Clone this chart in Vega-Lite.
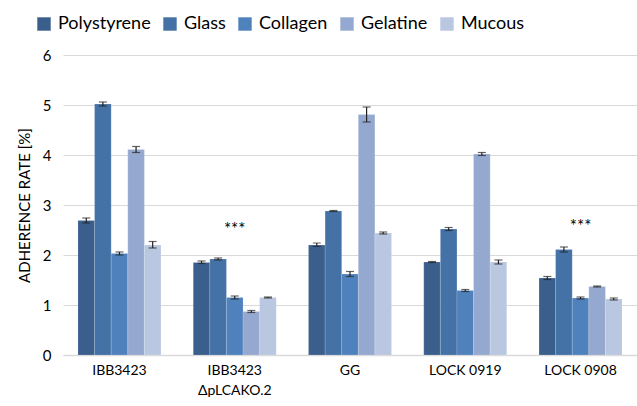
{
  "$schema": "https://vega.github.io/schema/vega-lite/v6.json",
  "width": 574,
  "height": 300,
  "autosize": "none",
  "padding": {"left": 63, "top": 55, "right": 0, "bottom": 51},
  "background": "white",
  "config": {
    "font": "Lato",
    "view": {"stroke": null}
  },
  "datasets": {
    "bars": [
      {"strain": "IBB3423", "surface": "Polystyrene", "value": 2.69, "lo": 2.64, "hi": 2.74},
      {"strain": "IBB3423", "surface": "Glass", "value": 5.02, "lo": 4.98, "hi": 5.06},
      {"strain": "IBB3423", "surface": "Collagen", "value": 2.03, "lo": 2.0, "hi": 2.06},
      {"strain": "IBB3423", "surface": "Gelatine", "value": 4.11, "lo": 4.05, "hi": 4.17},
      {"strain": "IBB3423", "surface": "Mucous", "value": 2.2, "lo": 2.14, "hi": 2.27},
      {"strain": "IBB3423\nΔpLCAKO.2", "surface": "Polystyrene", "value": 1.85, "lo": 1.83, "hi": 1.88},
      {"strain": "IBB3423\nΔpLCAKO.2", "surface": "Glass", "value": 1.92, "lo": 1.9, "hi": 1.94},
      {"strain": "IBB3423\nΔpLCAKO.2", "surface": "Collagen", "value": 1.15, "lo": 1.12, "hi": 1.18},
      {"strain": "IBB3423\nΔpLCAKO.2", "surface": "Gelatine", "value": 0.87, "lo": 0.85, "hi": 0.89},
      {"strain": "IBB3423\nΔpLCAKO.2", "surface": "Mucous", "value": 1.15, "lo": 1.14, "hi": 1.16},
      {"strain": "GG", "surface": "Polystyrene", "value": 2.2, "lo": 2.17, "hi": 2.24},
      {"strain": "GG", "surface": "Glass", "value": 2.88, "lo": 2.87, "hi": 2.89},
      {"strain": "GG", "surface": "Collagen", "value": 1.62, "lo": 1.57, "hi": 1.67},
      {"strain": "GG", "surface": "Gelatine", "value": 4.81, "lo": 4.66, "hi": 4.96},
      {"strain": "GG", "surface": "Mucous", "value": 2.44, "lo": 2.42, "hi": 2.46},
      {"strain": "LOCK 0919", "surface": "Polystyrene", "value": 1.86, "lo": 1.85, "hi": 1.87},
      {"strain": "LOCK 0919", "surface": "Glass", "value": 2.52, "lo": 2.49, "hi": 2.55},
      {"strain": "LOCK 0919", "surface": "Collagen", "value": 1.29, "lo": 1.27, "hi": 1.31},
      {"strain": "LOCK 0919", "surface": "Gelatine", "value": 4.02, "lo": 3.99, "hi": 4.05},
      {"strain": "LOCK 0919", "surface": "Mucous", "value": 1.86, "lo": 1.82, "hi": 1.9},
      {"strain": "LOCK 0908", "surface": "Polystyrene", "value": 1.54, "lo": 1.51, "hi": 1.57},
      {"strain": "LOCK 0908", "surface": "Glass", "value": 2.11, "lo": 2.06, "hi": 2.16},
      {"strain": "LOCK 0908", "surface": "Collagen", "value": 1.14, "lo": 1.12, "hi": 1.16},
      {"strain": "LOCK 0908", "surface": "Gelatine", "value": 1.37, "lo": 1.36, "hi": 1.38},
      {"strain": "LOCK 0908", "surface": "Mucous", "value": 1.12, "lo": 1.1, "hi": 1.14}
    ],
    "stars": [
      {"strain": "IBB3423\nΔpLCAKO.2", "label": "***", "y": 2.5},
      {"strain": "LOCK 0908", "label": "***", "y": 2.57}
    ]
  },
  "encoding": {
    "x": {
      "field": "strain",
      "type": "nominal",
      "sort": ["IBB3423", "IBB3423\nΔpLCAKO.2", "GG", "LOCK 0919", "LOCK 0908"],
      "scale": {"paddingInner": 0.28, "paddingOuter": 0.13},
      "axis": {
        "title": null,
        "labelAngle": 0,
        "labelExpr": "split(datum.label, '\\n')",
        "labelFontSize": 14,
        "labelColor": "#000000",
        "labelPadding": 8,
        "labelLineHeight": 20,
        "ticks": false,
        "domainColor": "#D9D9D9",
        "domainWidth": 1.5,
        "grid": false
      }
    }
  },
  "layer": [
    {
      "data": {"name": "bars"},
      "mark": {"type": "bar", "stroke": "#FFFFFF", "strokeWidth": 0.5, "strokeOpacity": 0.3},
      "encoding": {
        "xOffset": {"field": "surface", "type": "nominal", "sort": ["Polystyrene", "Glass", "Collagen", "Gelatine", "Mucous"], "scale": {"paddingInner": 0}},
        "y": {
          "field": "value",
          "type": "quantitative",
          "scale": {"domain": [0, 6], "nice": false},
          "axis": {
            "title": "ADHERENCE RATE [%]",
            "titleFontSize": 15,
            "titleFontWeight": "normal",
            "titleColor": "#000000",
            "titlePadding": 10,
            "values": [0, 1, 2, 3, 4, 5, 6],
            "labelOverlap": false,
            "labelFontSize": 15,
            "labelColor": "#000000",
            "labelPadding": 12,
            "ticks": false,
            "domain": false,
            "gridColor": "#D9D9D9",
            "gridWidth": 1.2
          }
        },
        "color": {
          "field": "surface",
          "type": "nominal",
          "sort": ["Polystyrene", "Glass", "Collagen", "Gelatine", "Mucous"],
          "scale": {"range": ["#3A5F8C", "#4472A6", "#4F81BD", "#95A9D0", "#B9C7E1"]},
          "legend": {
            "title": null,
            "orient": "none",
            "direction": "horizontal",
            "legendX": -28,
            "legendY": -40,
            "symbolType": "square",
            "symbolSize": 180,
            "symbolStrokeWidth": 0,
            "labelFontSize": 18,
            "labelColor": "#000000",
            "labelOffset": 5,
            "columnPadding": 10,
            "symbolOpacity": 1
          }
        }
      }
    },
    {
      "data": {"name": "bars"},
      "mark": {"type": "rule", "color": "#222222", "strokeWidth": 1.2},
      "encoding": {
        "xOffset": {"field": "surface", "type": "nominal", "sort": ["Polystyrene", "Glass", "Collagen", "Gelatine", "Mucous"], "scale": {"paddingInner": 0}},
        "y": {"field": "lo", "type": "quantitative"},
        "y2": {"field": "hi"}
      }
    },
    {
      "data": {"name": "bars"},
      "mark": {"type": "tick", "color": "#222222", "thickness": 1.2, "size": 8, "orient": "horizontal"},
      "encoding": {
        "xOffset": {"field": "surface", "type": "nominal", "sort": ["Polystyrene", "Glass", "Collagen", "Gelatine", "Mucous"], "scale": {"paddingInner": 0}},
        "y": {"field": "lo", "type": "quantitative"}
      }
    },
    {
      "data": {"name": "bars"},
      "mark": {"type": "tick", "color": "#222222", "thickness": 1.2, "size": 8, "orient": "horizontal"},
      "encoding": {
        "xOffset": {"field": "surface", "type": "nominal", "sort": ["Polystyrene", "Glass", "Collagen", "Gelatine", "Mucous"], "scale": {"paddingInner": 0}},
        "y": {"field": "hi", "type": "quantitative"}
      }
    },
    {
      "data": {"name": "stars"},
      "mark": {"type": "text", "fontSize": 17, "color": "#000000", "baseline": "middle"},
      "encoding": {
        "y": {"field": "y", "type": "quantitative"},
        "text": {"field": "label"}
      }
    }
  ]
}
